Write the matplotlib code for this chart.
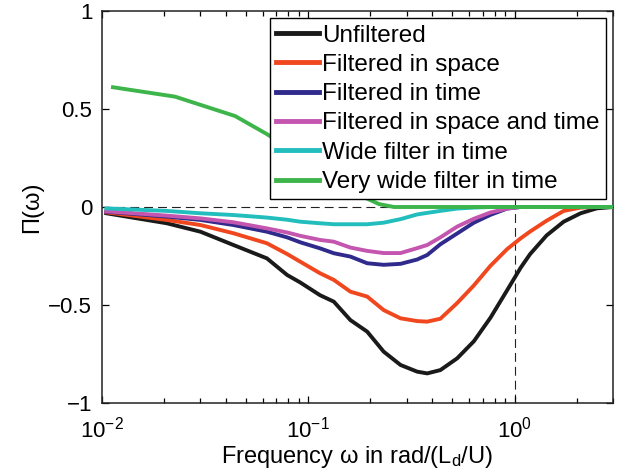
import matplotlib
matplotlib.use("Agg")
import matplotlib.pyplot as plt
from matplotlib.ticker import LogLocator, FixedLocator, FixedFormatter, NullFormatter

plt.rcParams['font.family'] = ['Liberation Sans', 'DejaVu Sans']
plt.rcParams['mathtext.fontset'] = 'custom'
plt.rcParams['mathtext.rm'] = 'Liberation Sans'
plt.rcParams['mathtext.it'] = 'Liberation Sans:italic'
plt.rcParams['mathtext.bf'] = 'Liberation Sans:bold'

# Common frequency grid (rad/(Ld/U))
freq = [0.0105, 0.0206, 0.030, 0.0434, 0.063, 0.079, 0.0914, 0.114, 0.133, 0.160,
        0.193, 0.232, 0.280, 0.337, 0.377, 0.437, 0.527, 0.635, 0.764, 0.92,
        1.07, 1.19, 1.43, 1.73, 2.09, 2.5, 3.0]

unfiltered = [-0.032, -0.083, -0.126, -0.194, -0.262, -0.347, -0.385, -0.450, -0.483, -0.577,
              -0.636, -0.738, -0.806, -0.840, -0.849, -0.832, -0.772, -0.685, -0.565, -0.425,
              -0.310, -0.240, -0.145, -0.075, -0.032, -0.007, 0.0]
filt_space = [-0.027, -0.066, -0.092, -0.134, -0.185, -0.240, -0.279, -0.338, -0.372, -0.432,
              -0.457, -0.526, -0.568, -0.582, -0.585, -0.570, -0.490, -0.400, -0.300, -0.215,
              -0.160, -0.125, -0.070, -0.020, -0.003, 0.0, 0.0]
filt_time = [-0.024, -0.049, -0.066, -0.092, -0.126, -0.155, -0.180, -0.211, -0.236, -0.253,
             -0.287, -0.295, -0.290, -0.268, -0.245, -0.190, -0.135, -0.080, -0.040, -0.008,
             0.0, 0.0, 0.0, 0.0, 0.0, 0.0, 0.0]
filt_space_time = [-0.022, -0.044, -0.058, -0.078, -0.109, -0.130, -0.147, -0.168, -0.177, -0.207,
                   -0.224, -0.235, -0.235, -0.210, -0.194, -0.155, -0.100, -0.060, -0.028, -0.008,
                   0.0, 0.0, 0.0, 0.0, 0.0, 0.0, 0.0]
wide_time = [-0.007, -0.020, -0.032, -0.041, -0.054, -0.065, -0.075, -0.083, -0.088, -0.088,
             -0.088, -0.080, -0.062, -0.038, -0.030, -0.020, -0.008, -0.003, 0.0, 0.0,
             0.0, 0.0, 0.0, 0.0, 0.0, 0.0, 0.0]

freq_vwide = [0.0113, 0.0226, 0.0442, 0.063, 0.08, 0.10, 0.13, 0.16, 0.19, 0.22, 0.26, 0.4, 1.0, 3.0]
very_wide_time = [0.611, 0.563, 0.464, 0.372, 0.30, 0.23, 0.15, 0.09, 0.046, 0.015, 0.0, 0.0, 0.0, 0.0]

labels = ["Unfiltered", "Filtered in space", "Filtered in time",
          "Filtered in space and time", "Wide filter in time", "Very wide filter in time"]
colors = ["#1a1a1a", "#f0471f", "#2f2a8c", "#c456b0", "#22bdbd", "#3db54a"]

yticks = [-1, -0.5, 0, 0.5, 1]
yticklabels = ["\u22121", "\u22120.5", "0", "0.5", "1"]

fig = plt.figure(figsize=(6.2, 4.72), dpi=100)
ax = fig.add_axes([0.1645, 0.1462, 0.8242, 0.8305])

ax.axhline(0, color="#222222", lw=0.8, ls=(0, (8, 4.5)), zorder=1)
ax.axvline(1.0, color="#222222", lw=0.8, ls=(0, (8, 4.5)), zorder=1)

series = [unfiltered, filt_space, filt_time, filt_space_time, wide_time]
for ys, lab, c in zip(series, labels[:5], colors[:5]):
    ax.plot(freq, ys, color=c, lw=2.8, label=lab, zorder=3)
ax.plot(freq_vwide, very_wide_time, color=colors[5], lw=2.8, label=labels[5], zorder=3)

ax.set_xscale("log")
ax.set_xlim(0.01, 3.0)
ax.set_ylim(-1, 1)
ax.yaxis.set_major_locator(FixedLocator(yticks))
ax.yaxis.set_major_formatter(FixedFormatter(yticklabels))
ax.xaxis.set_major_locator(LogLocator(base=10, numticks=10))
ax.xaxis.set_minor_locator(LogLocator(base=10, subs=range(2, 10), numticks=20))
ax.xaxis.set_minor_formatter(NullFormatter())

ax.tick_params(which="both", direction="in", top=True, right=True, labelsize=16, width=0.9)
ax.tick_params(which="major", length=5)
ax.tick_params(axis="y", which="major", pad=7)
ax.tick_params(axis="x", which="major", pad=10)
ax.tick_params(which="minor", length=3.5)
for s in ax.spines.values():
    s.set_linewidth(1.1)
    s.set_color("#222222")

ax.set_xlabel("Frequency \u03c9 in rad/(L$_\\mathregular{d}$/U)", fontsize=17, labelpad=1)
ax.set_ylabel("\u03a0(\u03c9)", fontsize=17, labelpad=4)

leg = ax.legend(loc="upper right", bbox_to_anchor=(0.986, 0.981), fontsize=17.5,
                frameon=True, fancybox=False, framealpha=1, edgecolor="black",
                handlelength=1.8, handletextpad=0.12, labelspacing=0.3,
                borderpad=0.25, borderaxespad=0)
leg.get_frame().set_linewidth(1.0)
for line in leg.get_lines():
    line.set_linewidth(3.5)

fig.savefig("out.png", dpi=100)
